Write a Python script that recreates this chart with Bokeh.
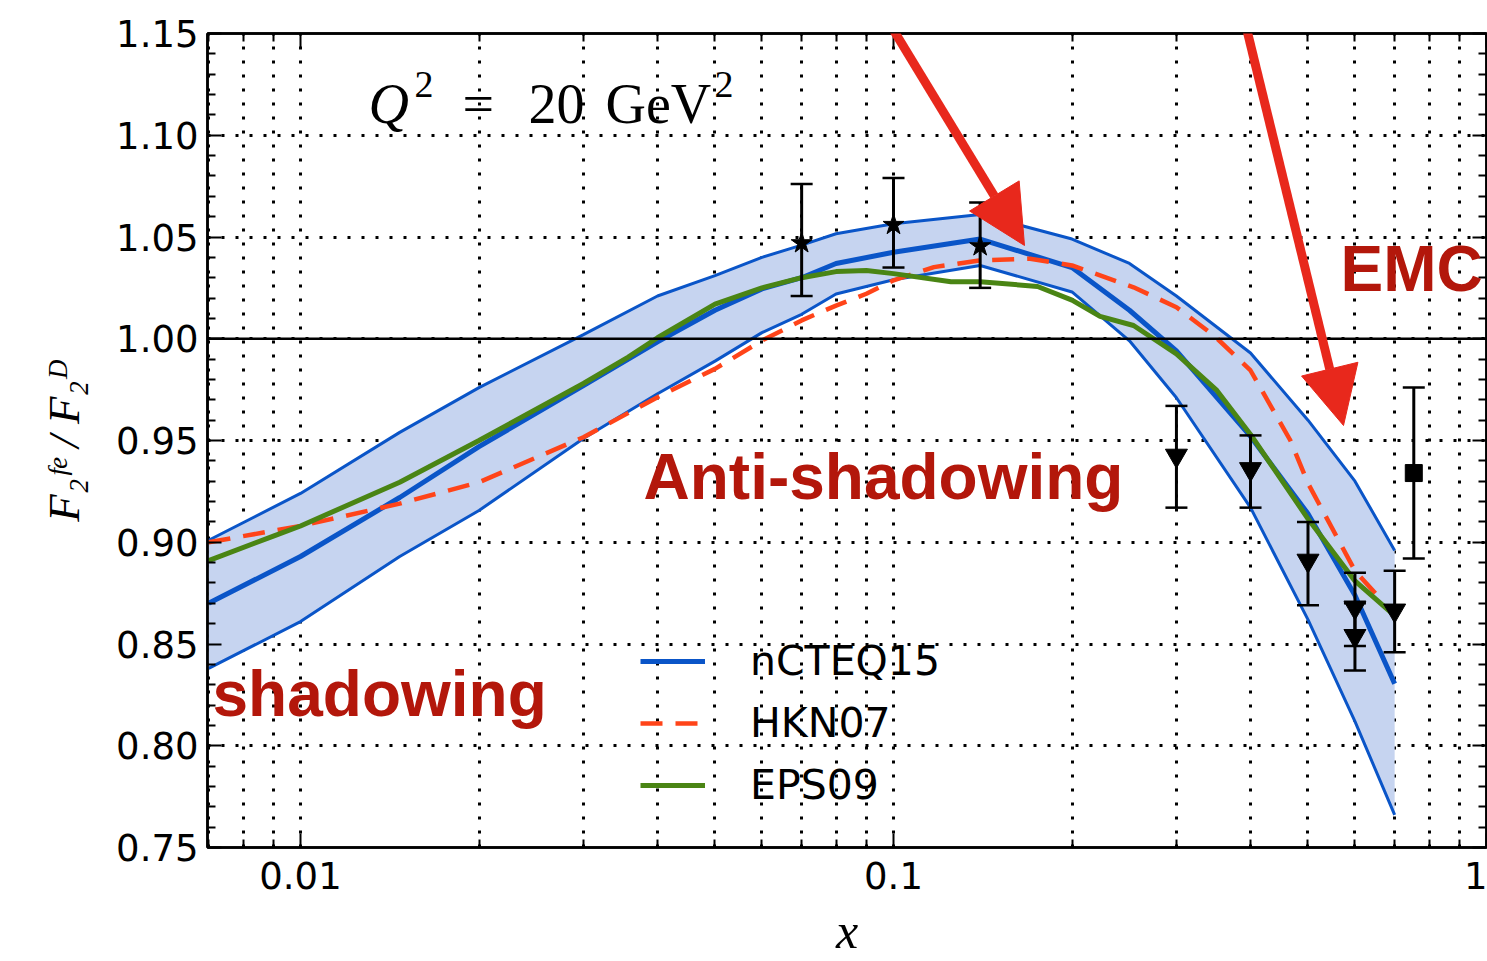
import math
from bokeh.plotting import figure
from bokeh.models import (FixedTicker, Span, Whisker, TeeHead, ColumnDataSource, Legend,
                          LegendItem, Label, Arrow, NormalHead, LinearAxis, LogAxis,
                          PrintfTickFormatter, CustomJSTickFormatter)
from bokeh.embed import file_html
from bokeh.resources import INLINE

# ---------------- data ----------------
band_x = [0.007, 0.01, 0.0147, 0.02, 0.03, 0.04, 0.05, 0.06, 0.07, 0.08, 0.1, 0.14,
          0.2, 0.25, 0.3, 0.4, 0.5, 0.6, 0.7]
ncteq_central = [0.870, 0.893, 0.922, 0.947, 0.977, 0.9985, 1.014, 1.0245, 1.030, 1.037,
                 1.0425, 1.049, 1.035, 1.014, 0.994, 0.952, 0.914, 0.874, 0.8305]
ncteq_upper = [0.901, 0.924, 0.954, 0.976, 1.002, 1.021, 1.031, 1.040, 1.046, 1.0516,
               1.0565, 1.061, 1.049, 1.037, 1.021, 0.993, 0.960, 0.930, 0.896]
ncteq_lower = [0.838, 0.861, 0.893, 0.9156, 0.951, 0.973, 0.989, 1.003, 1.012, 1.022,
               1.029, 1.036, 1.023, 0.999, 0.971, 0.917, 0.862, 0.812, 0.766]

hkn_x = [0.007, 0.01, 0.0147, 0.02, 0.03, 0.04, 0.05, 0.06, 0.07, 0.08, 0.09, 0.1, 0.117,
         0.14, 0.17, 0.2, 0.254, 0.3, 0.347, 0.4, 0.467, 0.5, 0.6, 0.654]
hkn_y = [0.900, 0.908, 0.919, 0.9295, 0.9516, 0.9713, 0.9852, 0.9991, 1.009, 1.0163, 1.0221,
         1.0287, 1.0352, 1.0385, 1.0393, 1.036, 1.0253, 1.0155, 1.0016, 0.9844, 0.950, 0.929,
         0.886, 0.874]

eps_x = [0.007, 0.009, 0.01, 0.0147, 0.02, 0.03, 0.0357, 0.04, 0.05, 0.06, 0.07, 0.08, 0.09,
         0.1, 0.125, 0.14, 0.175, 0.2, 0.223, 0.254, 0.3, 0.351, 0.4, 0.5, 0.6, 0.7]
eps_y = [0.891, 0.903, 0.908, 0.9295, 0.950, 0.978, 0.991, 1.0005, 1.017, 1.025, 1.030, 1.033,
         1.0335, 1.032, 1.028, 1.028, 1.0257, 1.019, 1.011, 1.0065, 0.9926, 0.9746, 0.953,
         0.9115, 0.881, 0.864]

star_x = [0.07, 0.1, 0.14]
star_y = [1.047, 1.056, 1.0455]
star_lo = [1.021, 1.035, 1.025]
star_hi = [1.076, 1.079, 1.067]

tri_x = [0.3, 0.4, 0.5, 0.6, 0.6, 0.7]
tri_y = [0.9426, 0.936, 0.891, 0.868, 0.854, 0.8665]
tri_lo = [0.917, 0.917, 0.869, 0.849, 0.837, 0.846]
tri_hi = [0.967, 0.9525, 0.910, 0.885, 0.870, 0.886]

sq_x = [0.754]
sq_y = [0.934]
sq_lo = [0.892]
sq_hi = [0.976]

x_major = [0.01, 0.1, 1.0]
x_minor = [0.007, 0.008, 0.009, 0.02, 0.03, 0.04, 0.05, 0.06, 0.07, 0.08, 0.09,
           0.2, 0.3, 0.4, 0.5, 0.6, 0.7, 0.8, 0.9]
y_major = [0.75, 0.80, 0.85, 0.90, 0.95, 1.00, 1.05, 1.10, 1.15]
y_minor = [0.76, 0.77, 0.78, 0.79, 0.81, 0.82, 0.83, 0.84, 0.86, 0.87, 0.88, 0.89,
           0.91, 0.92, 0.93, 0.94, 0.96, 0.97, 0.98, 0.99, 1.01, 1.02, 1.03, 1.04,
           1.06, 1.07, 1.08, 1.09, 1.11, 1.12, 1.13, 1.14]

series_names = ["nCTEQ15", "HKN07", "EPS09"]
x_title = "x"
y_title = "F\u2082\u1da0\u1d49 / F\u2082\u1d30"

# ---------------- layout ----------------
W, H = 1487, 961
FL, FR, FT, FB = 207, 1486, 33, 847
DEC = (FR - 300) / 2.0          # px per decade (0.01 at x=300, 1 at right edge)
X0 = 10 ** ((FL - FR) / DEC)
Y0, Y1 = 0.75, 1.15

BLUE = "#0a55c8"
FILL = "#c6d4f0"
RED = "#ff4419"
GREEN = "#4a8514"
DARKRED = "#b3170b"
ARROW = "#e8281c"

p = figure(width=W, height=H, x_axis_type="log", x_range=(X0, 1.0), y_range=(Y0, Y1),
           output_backend="svg", toolbar_location=None,
           min_border_left=FL, min_border_right=W - FR, min_border_top=FT,
           min_border_bottom=H - FB)
p.background_fill_color = "white"
p.border_fill_color = "white"
p.outline_line_color = "black"
p.outline_line_width = 2.5

# axes
xa = p.xaxis[0]
ya = p.yaxis[0]
xa.ticker = FixedTicker(ticks=x_major, minor_ticks=x_minor)
ya.ticker = FixedTicker(ticks=y_major, minor_ticks=y_minor)
xa.formatter = CustomJSTickFormatter(code="return String(Number(tick.toPrecision(3)));")
ya.formatter = PrintfTickFormatter(format="%.2f")
top = LogAxis(ticker=FixedTicker(ticks=x_major, minor_ticks=x_minor))
right = LinearAxis(ticker=FixedTicker(ticks=y_major, minor_ticks=y_minor))
for ax in (top, right):
    ax.major_label_text_font_size = "1px"
    ax.major_label_text_alpha = 0
    ax.major_label_standoff = 0
for ax in (xa, ya, top, right):
    ax.major_tick_in = 14
    ax.major_tick_out = 0
    ax.minor_tick_in = 8
    ax.minor_tick_out = 0
    ax.axis_line_width = 2.5
    ax.major_tick_line_width = 2
    ax.minor_tick_line_width = 2
for ax in (xa, ya):
    ax.major_label_text_font = "DejaVu Sans"
    ax.major_label_text_font_size = "37px"
    ax.major_label_text_color = "black"
    ax.axis_label_text_font = "Liberation Serif"
    ax.axis_label_text_font_style = "italic"
    ax.axis_label_text_color = "black"
xa.major_label_standoff = 14
ya.major_label_standoff = 9
xa.axis_label = x_title
xa.axis_label_text_font_size = "50px"
xa.axis_label_standoff = 11
ya.axis_label = y_title
ya.axis_label_text_font_size = "45px"
ya.axis_label_standoff = 24
p.add_layout(top, "above")
p.add_layout(right, "right")

# grids
for g in (p.xgrid[0], p.ygrid[0]):
    g.grid_line_color = "black"
    g.grid_line_dash = "3 11"
    g.grid_line_width = 3
p.xgrid[0].minor_grid_line_color = "black"
p.xgrid[0].minor_grid_line_dash = "3 11"
p.xgrid[0].minor_grid_line_width = 3

p.add_layout(Span(location=1.0, dimension="width", line_color="black", line_width=2.5))

# nCTEQ15 band
p.varea(x=band_x, y1=ncteq_lower, y2=ncteq_upper, fill_color=FILL, fill_alpha=1.0)
p.line(band_x, ncteq_upper, line_color=BLUE, line_width=3)
p.line(band_x, ncteq_lower, line_color=BLUE, line_width=3)
r_c = p.line(band_x, ncteq_central, line_color=BLUE, line_width=5)
r_h = p.line(hkn_x, hkn_y, line_color=RED, line_width=4.5, line_dash="22 13")
r_e = p.line(eps_x, eps_y, line_color=GREEN, line_width=5)

# data with error bars
for xs, ys, lo, hi, mk, sz in ((star_x, star_y, star_lo, star_hi, "star", 22),
                               (tri_x, tri_y, tri_lo, tri_hi, "inverted_triangle", 22),
                               (sq_x, sq_y, sq_lo, sq_hi, "square", 17)):
    src = ColumnDataSource(dict(x=xs, y=ys, lo=lo, hi=hi))
    w = Whisker(source=src, base="x", lower="lo", upper="hi", dimension="height",
                line_color="black", line_width=3, level="overlay",
                upper_head=TeeHead(size=22, line_width=2.5, line_color="black"),
                lower_head=TeeHead(size=22, line_width=2.5, line_color="black"))
    p.add_layout(w)
    p.scatter("x", "y", source=src, marker=mk, size=sz, fill_color="black",
              line_color="black", level="overlay")

# legend
legend = Legend(items=[LegendItem(label=series_names[0], renderers=[r_c]),
                       LegendItem(label=series_names[1], renderers=[r_h]),
                       LegendItem(label=series_names[2], renderers=[r_e])],
                location=(640 - FL, FB - 816), orientation="vertical",
                glyph_width=65, glyph_height=62, label_height=62, label_standoff=45,
                spacing=0, padding=0, margin=0, border_line_color=None,
                background_fill_alpha=0, label_text_font="DejaVu Sans",
                label_text_font_size="41px", label_text_color="black")
p.add_layout(legend)

SHIFT = 0.38  # baseline correction (em)


def lab(text, px, py, size, font="Liberation Serif", style="normal", color="black"):
    py = py - SHIFT * size
    p.add_layout(Label(x=px - FL, y=FB - py, x_units="screen", y_units="screen",
                       text=text, text_font=font, level="overlay",
                       text_font_size=f"{size}px", text_font_style=style,
                       text_color=color, text_align="left", text_baseline="alphabetic"))


# Q^2 = 20 GeV^2
lab("Q", 368, 125, 56, style="italic")
lab("2", 414, 98, 38)
lab("=", 462, 125, 56)
lab("20", 528, 125, 56)
lab("GeV", 605, 125, 56)
lab("2", 714, 98, 38)

# region annotations (labels are clipped to the frame, so "shadowing" starts inside it)
lab("shadowing", 212, 718, 64, font="Liberation Sans", style="bold", color=DARKRED)
lab("Anti-shadowing", 643, 501, 64, font="Liberation Sans", style="bold", color=DARKRED)
lab("EMC", 1340, 293, 64, font="Liberation Sans", style="bold", color=DARKRED)

# hand drawn arrows
for (x0, y0, x1, y1) in ((872, -5, 1024, 245), (1238, -5, 1343, 425)):
    p.add_layout(Arrow(end=NormalHead(size=58, fill_color=ARROW, line_color=ARROW),
                       x_start=x0 - FL, y_start=FB - y0, x_end=x1 - FL, y_end=FB - y1,
                       start_units="screen", end_units="screen", level="overlay",
                       line_color=ARROW, line_width=9))

open("out.html", "w").write(file_html(p, INLINE))
